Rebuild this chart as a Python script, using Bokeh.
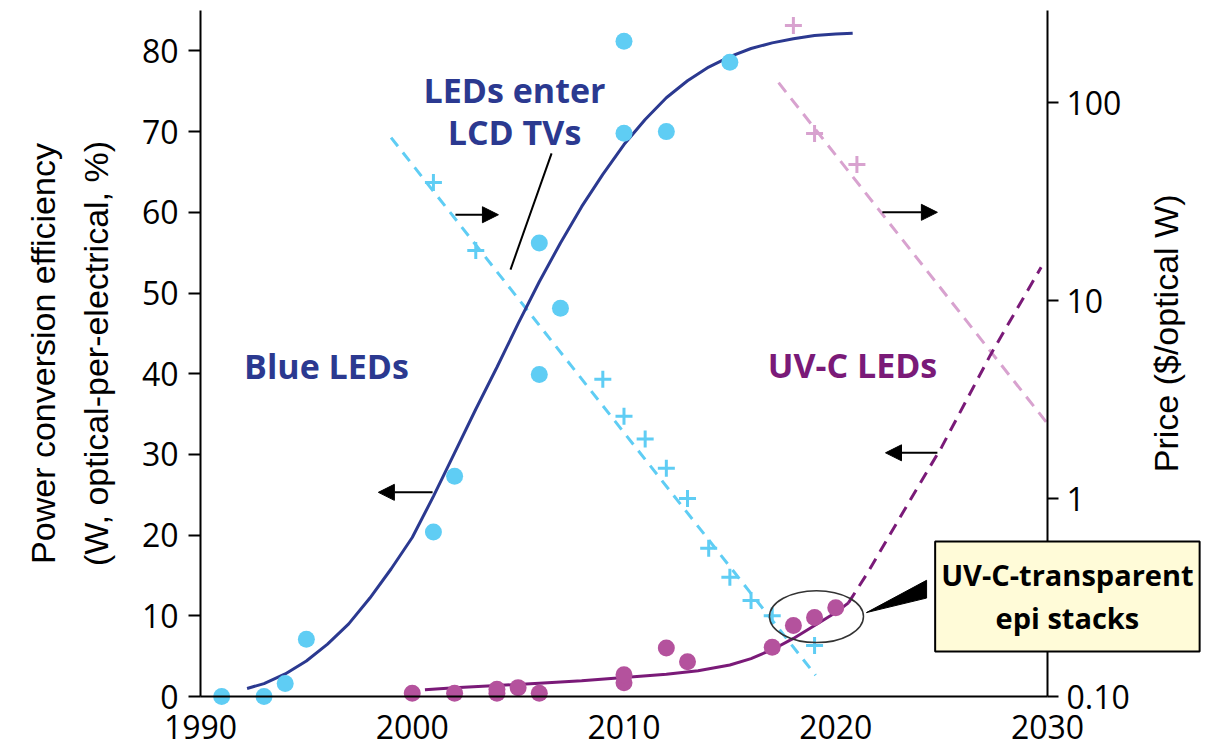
import math
from bokeh.plotting import figure
from bokeh.models import (Range1d, LogScale, LogAxis, FixedTicker, Arrow,
                          NormalHead, Label, CustomJSTickFormatter)
from bokeh.embed import file_html
from bokeh.resources import INLINE

# ---------------- data ----------------
# Blue LEDs: power conversion efficiency (%)
blue_eff_year = [1991, 1993, 1994, 1995, 2001, 2002, 2006, 2007, 2006, 2010, 2010, 2012, 2015]
blue_eff_val = [0.0, 0.0, 1.6, 7.1, 20.4, 27.3, 39.9, 48.1, 56.2, 69.8, 81.2, 70.0, 78.6]

# Blue LEDs: efficiency trend curve
blue_fit_year = [1992.2, 1993, 1994, 1995, 1996, 1997, 1998, 1999, 2000, 2001, 2002, 2003,
                 2004, 2005, 2006, 2007, 2008, 2009, 2010, 2011, 2012, 2013, 2014, 2015,
                 2016, 2017, 2018, 2019, 2020, 2020.8]
blue_fit_val = [1.0, 1.6, 2.8, 4.4, 6.5, 9.0, 12.2, 15.8, 19.7, 24.8, 30.2, 35.6,
                40.8, 46.2, 51.4, 56.2, 60.7, 64.7, 68.4, 71.5, 74.2, 76.3, 78.0, 79.3,
                80.3, 81.0, 81.5, 81.9, 82.1, 82.2]

# Blue LEDs: price ($/optical W)
blue_price_year = [2001, 2003, 2009, 2010, 2011, 2012, 2013, 2014, 2015, 2016, 2017, 2019]
blue_price_val = [39.5, 17.9, 4.0, 2.6, 2.0, 1.42, 1.0, 0.56, 0.40, 0.305, 0.256, 0.181]
blue_price_trend_year = [1999.0, 2019.05]
blue_price_trend_val = [66.5, 0.128]

# UV-C LEDs: efficiency (%)
uvc_eff_year = [2000, 2002, 2004, 2004, 2005, 2006, 2010, 2010, 2012, 2013, 2017, 2018, 2019, 2020]
uvc_eff_val = [0.4, 0.4, 0.4, 0.9, 1.1, 0.4, 1.7, 2.7, 6.0, 4.3, 6.1, 8.8, 9.8, 11.0]

# UV-C LEDs: efficiency trend (solid) and projection (dashed)
uvc_fit_year = [2000.6, 2002, 2004, 2006, 2008, 2010, 2012, 2013.5, 2015, 2016, 2017, 2018,
                2019, 2020, 2020.6]
uvc_fit_val = [0.85, 1.1, 1.35, 1.65, 1.95, 2.35, 2.75, 3.2, 3.9, 4.7, 5.8, 7.2, 8.8, 10.4, 11.6]
uvc_proj_year = [2020.6, 2021.5, 2022.5, 2024, 2025, 2027.3, 2029.7]
uvc_proj_val = [11.6, 15.3, 19.8, 26.5, 30.9, 42.3, 53.2]

# UV-C LEDs: price
uvc_price_year = [2018, 2019, 2021]
uvc_price_val = [245, 69.7, 48.6]
uvc_price_trend_year = [2017.3, 2030.0]
uvc_price_trend_val = [126, 2.39]

# axis ticks
eff_ticks = [0, 10, 20, 30, 40, 50, 60, 70, 80]
year_ticks = [1990, 2000, 2010, 2020, 2030]
price_ticks = [0.1, 1, 10, 100]

# annotations (data coordinates: year, efficiency %)
arrow_x0 = [2000.96, 2002.04, 2022.2, 2024.8]
arrow_x1 = [1998.4, 2004.07, 2024.8, 2022.35]
arrow_y = [25.3, 59.7, 60.0, 30.2]
tv_line_x = [2006.58, 2004.64]
tv_line_y = [67.3, 52.9]
ellipse_xy = (2019.09, 9.9)
ellipse_wh = (4.44, 6.44)
wedge_x = [2024.29, 2024.29, 2021.45]
wedge_y = [14.4, 12.2, 10.4]

# colours
NAVY = "#2B3990"
SKY = "#5FCDF4"
MAGENTA = "#B4529D"
PURPLE = "#7A1A78"
PINK = "#D8A2CF"

TICK_FONT = "Open Sans"
TITLE_FONT = "Liberation Sans"
BOLD_FONT = "Open Sans"

# ---------------- figure ----------------
# The frame fills the whole canvas; the axes are pinned at 1990 / 2030 / 0 so that
# tick labels, titles and the callout box all lie inside it and are not clipped.
X_START, X_END = 1980.555, 2037.84
Y_START, Y_END = -6.69, 86.0
DECADES_PER_UNIT = 8.07 / 198.0      # price decades per efficiency unit
p = figure(width=1217, height=750,
           x_range=Range1d(X_START, X_END), y_range=Range1d(Y_START, Y_END),
           output_backend="svg", toolbar_location=None,
           min_border_left=0, min_border_right=4,
           min_border_top=2, min_border_bottom=0)
p.xgrid.visible = False
p.ygrid.visible = False
p.outline_line_color = None
p.background_fill_color = "white"
p.border_fill_color = "white"

p.extra_y_ranges = {"price": Range1d(0.1 * 10 ** (Y_START * DECADES_PER_UNIT),
                                     0.1 * 10 ** (Y_END * DECADES_PER_UNIT))}
p.extra_y_scales = {"price": LogScale()}

# x axis (drawn at efficiency = 0)
xa = p.xaxis[0]
xa.fixed_location = 0
xa.bounds = (1990, 2030)
xa.ticker = FixedTicker(ticks=year_ticks)
xa.axis_line_color = "black"
xa.axis_line_width = 2
xa.major_tick_line_color = None
xa.minor_tick_line_color = None
xa.major_label_text_font = TICK_FONT
xa.major_label_text_font_size = "32px"
xa.major_label_text_color = "black"
xa.major_label_standoff = 12

# left axis (drawn at 1990)
ya = p.yaxis[0]
ya.fixed_location = 1990
ya.ticker = FixedTicker(ticks=eff_ticks)
ya.bounds = (0, 85)
ya.axis_line_width = 2
ya.axis_line_color = "black"
ya.major_tick_line_width = 2
ya.major_tick_out = 12
ya.major_tick_in = 0
ya.minor_tick_line_color = None
ya.major_label_text_font = TICK_FONT
ya.major_label_text_font_size = "32px"
ya.major_label_text_color = "black"
ya.major_label_standoff = 10
ya.axis_label = "Power conversion efficiency\n(W, optical-per-electrical, %)"
ya.axis_label_text_font = TITLE_FONT
ya.axis_label_text_font_size = "34px"
ya.axis_label_text_font_style = "normal"
ya.axis_label_text_color = "black"
ya.axis_label_text_line_height = 1.4
ya.axis_label_standoff = 24

# right axis (log price), drawn at 2030
ra = LogAxis(y_range_name="price", ticker=FixedTicker(ticks=price_ticks),
             formatter=CustomJSTickFormatter(code="return tick < 0.5 ? '0.10' : tick.toFixed(0);"),
             fixed_location=2030)
ra.bounds = (0.1, 291)
ra.axis_line_width = 2
ra.axis_line_color = "black"
ra.major_tick_line_width = 2
ra.major_tick_out = 11
ra.major_tick_in = 0
ra.minor_tick_line_color = None
ra.major_label_text_font = TICK_FONT
ra.major_label_text_font_size = "32px"
ra.major_label_text_color = "black"
ra.major_label_standoff = 8
p.add_layout(ra, "right")

# right axis title
p.add_layout(Label(x=2035.6, y=45.0, text="Price ($/optical W)", angle=math.pi / 2,
                   text_font=TITLE_FONT, text_font_size="34px", text_color="black",
                   text_align="center", text_baseline="middle"))

# ---------------- glyphs ----------------
# price trend lines (right axis)
p.line(blue_price_trend_year, blue_price_trend_val, y_range_name="price",
       line_color=SKY, line_width=3, line_dash="11 8")
p.line(uvc_price_trend_year, uvc_price_trend_val, y_range_name="price",
       line_color=PINK, line_width=3, line_dash="12 8")

# efficiency curves
p.line(blue_fit_year, blue_fit_val, line_color=NAVY, line_width=3)
p.line(uvc_fit_year, uvc_fit_val, line_color=PURPLE, line_width=3)
p.line(uvc_proj_year, uvc_proj_val, line_color=PURPLE, line_width=3, line_dash="12 8")

# markers
p.scatter(blue_price_year, blue_price_val, y_range_name="price", marker="cross",
          size=17, line_color=SKY, line_width=3)
p.scatter(uvc_price_year, uvc_price_val, y_range_name="price", marker="cross",
          size=17, line_color=PINK, line_width=3)
p.scatter(blue_eff_year, blue_eff_val, marker="circle", size=17,
          fill_color=SKY, line_color=None)
p.scatter(uvc_eff_year, uvc_eff_val, marker="circle", size=17,
          fill_color=MAGENTA, line_color=None)

# ellipse + callout wedge
p.ellipse(x=[ellipse_xy[0]], y=[ellipse_xy[1]], width=ellipse_wh[0], height=ellipse_wh[1],
          fill_color=None, line_color="#333333", line_width=1.5)
p.patch(wedge_x, wedge_y, fill_color="black", line_color="black", line_width=1)

# "LEDs enter LCD TVs" leader line
p.line(tv_line_x, tv_line_y, line_color="black", line_width=2)

# arrows
for x0, x1, yy in zip(arrow_x0, arrow_x1, arrow_y):
    p.add_layout(Arrow(x_start=x0, y_start=yy, x_end=x1, y_end=yy,
                       line_color="black", line_width=2,
                       end=NormalHead(size=16, fill_color="black", line_color="black",
                                      line_width=1)))

# text labels
def add_label(x, y, text, color, size="34px"):
    p.add_layout(Label(x=x, y=y, text=text, text_color=color, text_font=BOLD_FONT,
                       text_font_size=size, text_font_style="bold",
                       text_align="center", text_baseline="middle"))

add_label(1995.95, 40.9, "Blue LEDs", NAVY)
add_label(2004.83, 75.1, "LEDs enter", NAVY)
add_label(2004.83, 70.0, "LCD TVs", NAVY)
add_label(2020.79, 41.1, "UV-C LEDs", PURPLE)

p.add_layout(Label(x=2030.94, y=12.4, text="UV-C-transparent\nepi stacks",
                   text_color="black", text_font=BOLD_FONT, text_font_size="29px",
                   text_font_style="bold", text_align="center", text_baseline="middle",
                   text_line_height=1.1,
                   background_fill_color="#FFFBD8", border_line_color="black",
                   border_line_width=2, padding=(6, 14)))

open("out.html", "w").write(file_html(p, INLINE))
